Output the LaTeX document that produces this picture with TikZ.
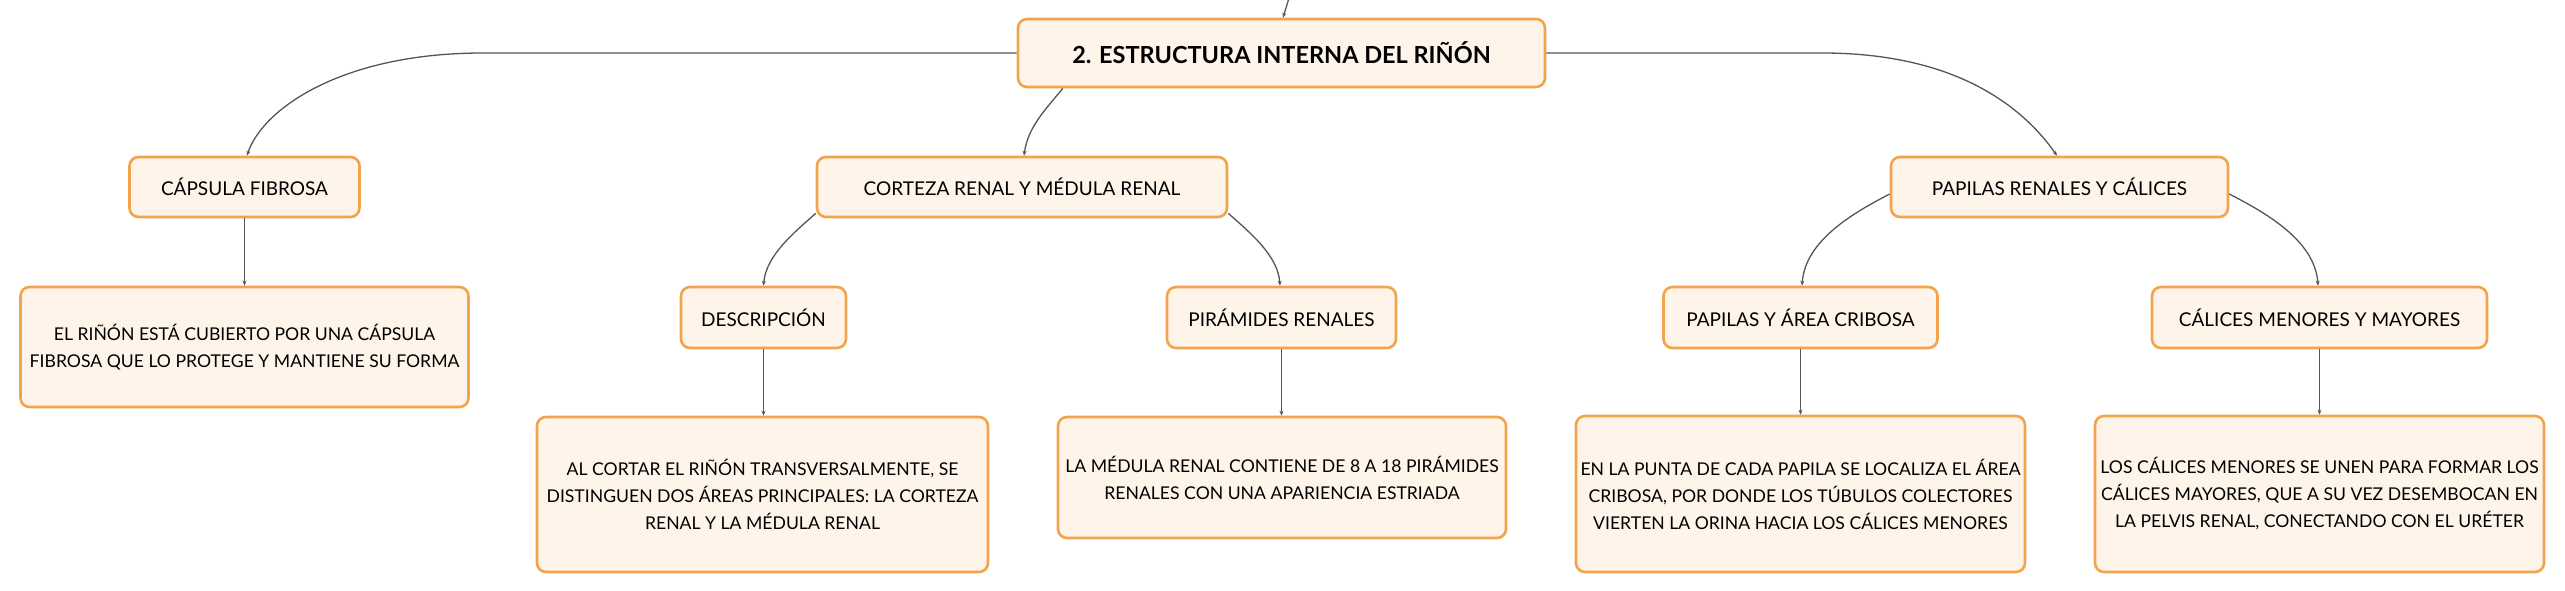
\documentclass[tikz,border=0pt]{standalone}
\usepackage{fontspec}
\setmainfont{Lato}
\usetikzlibrary{arrows.meta,calc}
\definecolor{boxfill}{HTML}{FEF4EA}
\definecolor{boxline}{HTML}{F2A44C}
\definecolor{conncol}{HTML}{555555}
\tikzset{
  box/.style={draw=boxline, line width=2.6pt, fill=boxfill, rounded corners=9pt,
    align=center, inner sep=0pt, font=\fontsize{19}{24}\selectfont},
  leaf/.style={box, font=\fontsize{17.6}{27}\selectfont},
  conn/.style={draw=conncol, line width=1.3pt, -{Stealth[length=5pt,width=4pt]}},
}
\begin{document}
\begin{tikzpicture}[x=1pt,y=-1pt]
\useasboundingbox (0,0) rectangle (2565,591);
% main
\node[box, minimum width=527, minimum height=68, font=\fontsize{23.5}{28}\selectfont\bfseries] (main) at (1281.5,53) {2. ESTRUCTURA INTERNA DEL RIÑÓN};
% level 1
\node[box, minimum width=230, minimum height=60] (caps) at (244.5,187) {CÁPSULA FIBROSA};
\node[box, minimum width=410, minimum height=60] (cort) at (1022,187) {CORTEZA RENAL Y MÉDULA RENAL};
\node[box, minimum width=337, minimum height=60] (papr) at (2059.5,187) {PAPILAS RENALES Y CÁLICES};
% level 2
\node[box, minimum width=165, minimum height=61] (desc) at (763.5,317.5) {DESCRIPCIÓN};
\node[box, minimum width=229, minimum height=61] (pir) at (1281.5,317.5) {PIRÁMIDES RENALES};
\node[box, minimum width=274, minimum height=61] (pac) at (1800.5,317.5) {PAPILAS Y ÁREA CRIBOSA};
\node[box, minimum width=335, minimum height=61] (cal) at (2319.5,317.5) {CÁLICES MENORES Y MAYORES};
% leaves
\node[leaf, minimum width=448, minimum height=120] (rin) at (244.5,347) {EL RIÑÓN ESTÁ CUBIERTO POR UNA CÁPSULA\\FIBROSA QUE LO PROTEGE Y MANTIENE SU FORMA};
\node[leaf, minimum width=451, minimum height=155] (alc) at (762.5,494.5) {AL CORTAR EL RIÑÓN TRANSVERSALMENTE, SE\\DISTINGUEN DOS ÁREAS PRINCIPALES: LA CORTEZA\\RENAL Y LA MÉDULA RENAL};
\node[leaf, minimum width=448, minimum height=121] (med) at (1282,477.5) {LA MÉDULA RENAL CONTIENE DE 8 A 18 PIRÁMIDES\\RENALES CON UNA APARIENCIA ESTRIADA};
\node[leaf, minimum width=449, minimum height=156] (pun) at (1800.5,494) {EN LA PUNTA DE CADA PAPILA SE LOCALIZA EL ÁREA\\CRIBOSA, POR DONDE LOS TÚBULOS COLECTORES\\VIERTEN LA ORINA HACIA LOS CÁLICES MENORES};
\node[leaf, minimum width=449, minimum height=156] (lcal) at (2319.5,494) {LOS CÁLICES MENORES SE UNEN PARA FORMAR LOS\\CÁLICES MAYORES, QUE A SU VEZ DESEMBOCAN EN\\LA PELVIS RENAL, CONECTANDO CON EL URÉTER};
% connectors
\coordinate (topin) at (1289,-2);
\draw[conn] (topin) -- ($(main.north)+(1.5,0)$);
\draw[conn] (main.west) -- (483,53) .. controls (340,53) and (262,110) .. ($(caps.north)+(2.5,0)$);
\draw[conn] (main.east) -- (1822,53) .. controls (1960,53) and (2025,110) .. ($(papr.north)+(-2.5,0)$);
\draw[conn] ($(main.south west)+(46,0)$) .. controls (1050,105) and (1028,125) .. ($(cort.north)+(2,0)$);
\draw[conn] ($(cort.south west)+(0,-5)$) .. controls (795,232) and (766,255) .. (desc.north);
\draw[conn] ($(cort.south east)+(0,-5)$) .. controls (1249,232) and (1278,255) .. ($(pir.north)+(-1.5,0)$);
\draw[conn] ($(papr.west)+(0,7)$) .. controls (1855,212) and (1805,240) .. ($(pac.north)+(1.5,0)$);
\draw[conn] ($(papr.east)+(0,7)$) .. controls (2264,212) and (2315,240) .. ($(cal.north)+(-1.5,0)$);
\draw[conn] (caps.south) -- (rin.north);
\draw[conn] (desc.south) -- (desc.south |- alc.north);
\draw[conn] (pir.south) -- (pir.south |- med.north);
\draw[conn] (pac.south) -- (pac.south |- pun.north);
\draw[conn] (cal.south) -- (cal.south |- lcal.north);
\end{tikzpicture}
\end{document}
